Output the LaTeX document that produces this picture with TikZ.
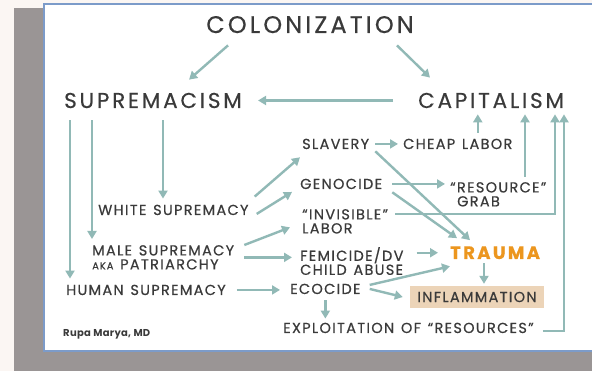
\documentclass[tikz,border=0pt]{standalone}
\usepackage{fontspec}
\setmainfont{Poppins}[LetterSpace=13,FakeBold=0.4]
\newfontfamily\labelfont{Poppins}[LetterSpace=9,WordSpace=1.3,FakeBold=0.5]
\newfontfamily\creditfont{Poppins}[LetterSpace=3]
\usetikzlibrary{positioning,arrows.meta}
\definecolor{pagebg}{RGB}{251,246,243}
\definecolor{shadowgray}{RGB}{154,149,149}
\definecolor{cardedge}{RGB}{124,155,201}
\definecolor{ink}{RGB}{58,58,58}
\definecolor{tealarrow}{RGB}{145,185,182}
\definecolor{traumaorange}{RGB}{236,150,30}
\definecolor{inflamtan}{RGB}{236,212,184}

\tikzset{
    lbl/.style={text=ink, inner sep=0pt, align=left, font=\labelfont\fontsize{14.5}{14}\selectfont},
    bigtitle/.style={text=ink, inner sep=0pt, font=\fontsize{24}{26}\selectfont},
    midtitle/.style={text=ink, inner sep=0pt, font=\fontsize{21.5}{24}\selectfont},
    arr/.style={draw=tealarrow, line width=2.4pt, -{Triangle[length=8pt,width=9pt]}},
}

\begin{document}
\begin{tikzpicture}[x=1pt,y=-1pt]
    \useasboundingbox (0,0) rectangle (592,371);
    % page, shadow and card
    \fill[pagebg] (0,0) rectangle (592,371);
    \fill[shadowgray] (14,8) rectangle (600,371);
    \fill[white] (44,4) rectangle (600,351);
    \draw[cardedge,line width=1.2pt] (600,4) -- (44,4) -- (44,351) -- (600,351);

    \node[bigtitle,anchor=base] (colon) at (310,33) {COLONIZATION};
    \node[midtitle,anchor=base west] (suprem) at (64,108) {SUPREMACISM};
    \node[midtitle,anchor=base west] (capital) at (418,108) {CAPITALISM};

    \node[lbl,anchor=base west] (white) at (98,215) {WHITE SUPREMACY};
    \node[lbl,anchor=north west] (male) at (92,245)
      {MALE SUPREMACY\\{\fontsize{10}{10}\selectfont AKA} PATRIARCHY};
    \node[lbl,anchor=base west] (human) at (66,295) {HUMAN SUPREMACY};

    \node[lbl,anchor=base west] (slavery) at (302,149) {SLAVERY};
    \node[lbl,anchor=base west] (cheap) at (403,149) {CHEAP LABOR};
    \node[lbl,anchor=base west] (genocide) at (300,189) {GENOCIDE};
    \node[lbl,anchor=north west] (grab) at (450,182) {“RESOURCE”\\\hspace{7pt}GRAB};
    \node[lbl,anchor=north west] (invisible) at (302,209) {“INVISIBLE”\\LABOR};
    \node[lbl,anchor=north west] (femicide) at (300,247) {FEMICIDE/DV\\CHILD ABUSE};
    \node[inner sep=0pt,anchor=base west,text=traumaorange,
          font=\fontsize{18}{20}\selectfont\bfseries] (trauma) at (450,259) {TRAUMA};
    \node[lbl,anchor=base west] (ecocide) at (290,294) {ECOCIDE};
    \node[lbl,fill=inflamtan,minimum width=134pt,minimum height=22pt] (inflam) at (477,297) {INFLAMMATION};
    \node[lbl,anchor=base west] (exploit) at (283,333) {EXPLOITATION OF “RESOURCES”};
    \node[inner sep=0pt,anchor=base west,text=ink,
          font=\creditfont\fontsize{10}{12}\selectfont\bfseries] (credit) at (63,337) {Rupa Marya, MD};

    % top level
    \draw[arr] ([xshift=22pt,yshift=-12pt]colon.south west) -- ([xshift=36pt,yshift=13pt]suprem.north);
    \draw[arr] ([xshift=-17pt,yshift=-12pt]colon.south east) -- ([xshift=12pt,yshift=15pt]capital.north west);
    \draw[arr,shorten <=25pt,shorten >=16pt] (capital.west) -- (suprem.east);

    % supremacism branches
    \draw[arr,shorten <=12pt,shorten >=6pt] ([xshift=6pt]suprem.south west) -- ([xshift=6pt]suprem.south west |- human.north);
    \draw[arr,shorten <=12pt,shorten >=6pt] ([xshift=28pt]suprem.south west) -- ([xshift=28pt]suprem.south west |- male.north);
    \draw[arr,shorten <=12pt,shorten >=6pt] ([xshift=99pt]suprem.south west) -- ([xshift=99pt]suprem.south west |- white.north);

    \draw[arr] ([xshift=6pt,yshift=8pt]white.north east) -- ([xshift=-2pt,yshift=-8pt]slavery.south west);
    \draw[arr] ([xshift=8pt,yshift=-4pt]white.east) -- ([xshift=-8pt,yshift=-8pt]genocide.west);
    \draw[arr] ([xshift=10pt]male.north east) -- ([xshift=-12pt,yshift=-6pt]invisible.west);
    \draw[arr,shorten <=10pt,shorten >=8pt] (male.east) -- (male.east -| femicide.west);
    \draw[arr,shorten <=11pt,shorten >=10pt] (human.east) -- (human.east -| ecocide.west);

    % back up to capitalism
    \draw[arr,shorten <=6pt,shorten >=5pt] (slavery.east) -- (cheap.west);
    \draw[arr,shorten <=6pt,shorten >=6pt] ([xshift=20pt]cheap.north) -- ([xshift=20pt]cheap.north |- capital.south);
    \draw[arr,shorten <=5pt,shorten >=6pt] ([xshift=75pt]grab.north west) -- ([xshift=75pt]grab.north west |- capital.south);
    \draw[arr,shorten >=6pt] ([xshift=7pt,yshift=-5pt]invisible.north east) -| ([xshift=137pt]capital.south west);
    \draw[arr,shorten >=6pt] ([xshift=9pt,yshift=-3pt]exploit.east) -| ([xshift=146pt]capital.south west);
    \draw[arr,shorten <=10pt,shorten >=5pt] (genocide.east) -- (genocide.east -| grab.west);

    % into trauma and inflammation
    \draw[arr] ([xshift=6pt,yshift=-2pt]slavery.south east) -- ([xshift=20pt,yshift=6pt]trauma.north west);
    \draw[arr] ([xshift=10pt,yshift=-3pt]genocide.south east) -- ([xshift=7pt,yshift=8pt]trauma.north west);
    \draw[arr,shorten <=13pt,shorten >=12pt] (trauma.west -| femicide.east) -- (trauma.west);
    \draw[arr] ([xshift=9pt,yshift=4pt]ecocide.east) -- ([yshift=-7pt]trauma.south west);
    \draw[arr] ([xshift=9pt]ecocide.east) -- ([xshift=-7pt]inflam.west);
    \draw[arr,shorten <=4pt,shorten >=2pt] ([xshift=7pt]inflam.north |- trauma.south) -- ([xshift=7pt]inflam.north);
    \draw[arr,shorten <=6pt,shorten >=4pt] (ecocide.south) -- (ecocide.south |- exploit.north);
\end{tikzpicture}
\end{document}
